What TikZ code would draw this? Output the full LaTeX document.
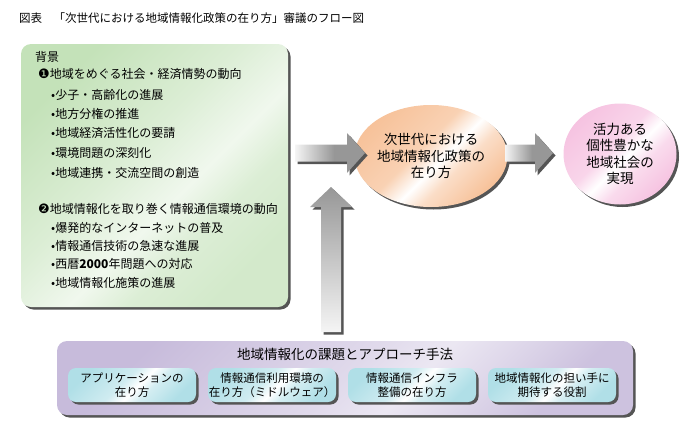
\documentclass[tikz,border=0pt]{standalone}
\usepackage{fontspec}
\setmainfont{Noto Sans CJK JP}
\newfontfamily\markfont{DejaVu Sans}
\usetikzlibrary{shapes.geometric,shadows}

\definecolor{leafgreen}{HTML}{C4E2B9}
\definecolor{peach}{HTML}{F7C29A}
\definecolor{blush}{HTML}{F6C3E1}
\definecolor{lilac}{HTML}{C7BBDB}
\definecolor{aqua}{HTML}{B0DFE7}
\definecolor{shadowgray}{HTML}{555555}
\definecolor{arrowgray}{HTML}{979797}

% diagonal streak fills
\pgfdeclarehorizontalshading{leafshade}{100bp}{color(0bp)=(leafgreen); color(25bp)=(leafgreen); color(44bp)=(leafgreen!60!white); color(56bp)=(leafgreen!25!white); color(64bp)=(leafgreen!60!white); color(75bp)=(leafgreen!75!white); color(100bp)=(leafgreen!75!white)}
\pgfdeclarehorizontalshading{peachshade}{100bp}{color(0bp)=(peach); color(25bp)=(peach); color(45bp)=(peach!75!white); color(54bp)=(white); color(61bp)=(peach!55!white); color(75bp)=(peach); color(100bp)=(peach)}
\pgfdeclarehorizontalshading{blushshade}{100bp}{color(0bp)=(blush); color(25bp)=(blush); color(45bp)=(blush!70!white); color(53bp)=(white); color(61bp)=(blush!60!white); color(75bp)=(blush); color(100bp)=(blush)}
\pgfdeclarehorizontalshading{lilacshade}{100bp}{color(0bp)=(lilac); color(25bp)=(lilac); color(50bp)=(lilac!55!white); color(58bp)=(lilac!35!white); color(66bp)=(lilac!60!white); color(75bp)=(lilac!90!white); color(100bp)=(lilac!90!white)}
\pgfdeclarehorizontalshading{aquashade}{100bp}{color(0bp)=(aqua); color(25bp)=(aqua); color(45bp)=(aqua!60!white); color(53bp)=(white); color(60bp)=(aqua!55!white); color(75bp)=(aqua); color(100bp)=(aqua)}
\pgfdeclarehorizontalshading{arrowfade}{100bp}{color(0bp)=(gray!8); color(25bp)=(gray!8); color(53bp)=(arrowgray); color(100bp)=(arrowgray)}

\begin{document}
\begin{tikzpicture}[x=1pt, y=-1pt,
    boxshadow/.style={drop shadow={shadow xshift=2.5pt, shadow yshift=-2.5pt, fill=shadowgray, opacity=1}},
    line/.style={anchor=west, inner sep=0pt, font=\fontsize{12}{14}\selectfont},
    bubble/.style={ellipse, boxshadow, shading angle=-45, align=center, inner sep=0pt,
        font=\fontsize{13.5}{16.5}\selectfont},
    task/.style={rectangle, rounded corners=8, boxshadow, shading=aquashade, shading angle=-45,
        minimum width=128, minimum height=34, align=center, inner sep=0pt,
        font=\fontsize{11.5}{13.5}\selectfont},
    blockarrow/.style={boxshadow, shading=arrowfade}]
    \useasboundingbox (0,0) rectangle (698,439);

    \node[anchor=west, inner sep=0pt, font=\fontsize{11.5}{13}\selectfont] (caption) at (19,18)
        {図表　「次世代における地域情報化政策の在り方」審議のフロー図};

    % background box
    \node[rectangle, rounded corners=10, boxshadow, shading=leafshade, shading angle=-45,
        minimum width=267, minimum height=263] (bg) at (154.5,175.5) {};
    \node[line] (bgtitle) at (35,57) {背景};
    \node[line] (trend1) at (38,74) {{\markfont\fontsize{13}{14}\selectfont ❶}地域をめぐる社会・経済情勢の動向};
    \node[line] (t1a) at (51,95) {•少子・高齢化の進展};
    \node[line] (t1b) at (51,114) {•地方分権の推進};
    \node[line] (t1c) at (51,133) {•地域経済活性化の要請};
    \node[line] (t1d) at (51,153) {•環境問題の深刻化};
    \node[line] (t1e) at (51,173) {•地域連携・交流空間の創造};
    \node[line] (trend2) at (38,209) {{\markfont\fontsize{13}{14}\selectfont ❷}地域情報化を取り巻く情報通信環境の動向};
    \node[line] (t2a) at (51,228) {•爆発的なインターネットの普及};
    \node[line] (t2b) at (51,246) {•情報通信技術の急速な進展};
    \node[line] (t2c) at (51,264) {•西暦\textbf{2000}年問題への対応};
    \node[line] (t2d) at (51,283) {•地域情報化施策の進展};

    % circles
    \node[bubble, shading=peachshade, minimum width=118, minimum height=102] (policy) at (431,156)
        {次世代における\\地域情報化政策の\\在り方};
    \node[bubble, shading=blushshade, minimum width=113, minimum height=101] (goal) at (620,154)
        {活力ある\\個性豊かな\\地域社会の\\実現};

    % bottom box
    \node[rectangle, rounded corners=10, boxshadow, shading=lilacshade, shading angle=-45,
        minimum width=576, minimum height=74] (topic) at (345,378) {};
    \node[inner sep=0pt, font=\fontsize{13.5}{15}\selectfont] (topictitle) at (345,354)
        {地域情報化の課題とアプローチ手法};
    \node[task] (app) at (132,385) {アプリケーションの\\在り方};
    \node[task] (mid) at (272,385) {情報通信利用環境の\\在り方（ミドルウェア）};
    \node[task] (infra) at (412,385) {情報通信インフラ\\整備の在り方};
    \node[task] (role) at (552,385) {地域情報化の担い手に\\期待する役割};

    % arrows
    \coordinate (a1tail) at (295,153);
    \coordinate (a1tip) at (365,153);
    \coordinate (a2tail) at (505,153);
    \coordinate (a2tip) at (553,153);
    \coordinate (uptail) at (331,332);
    \coordinate (uptip) at (331,187);

    \path[blockarrow] (a1tail) ++(0,-8.5) -- ++(52,0) -- ++(0,-11.5) -- (a1tip)
        -- ++(-18,20) -- ++(0,-11.5) -- ++(-52,0) -- cycle;
    \path[blockarrow] (a2tail) ++(0,-8.5) -- ++(30,0) -- ++(0,-11.5) -- (a2tip)
        -- ++(-18,20) -- ++(0,-11.5) -- ++(-30,0) -- cycle;
    \path[boxshadow, top color=arrowgray, middle color=arrowgray, bottom color=gray!8]
        (uptail) ++(-10,0) -- ++(0,-125) -- ++(-11,0) -- (uptip)
        -- ++(21,20) -- ++(-11,0) -- ++(0,125) -- cycle;
\end{tikzpicture}
\end{document}
